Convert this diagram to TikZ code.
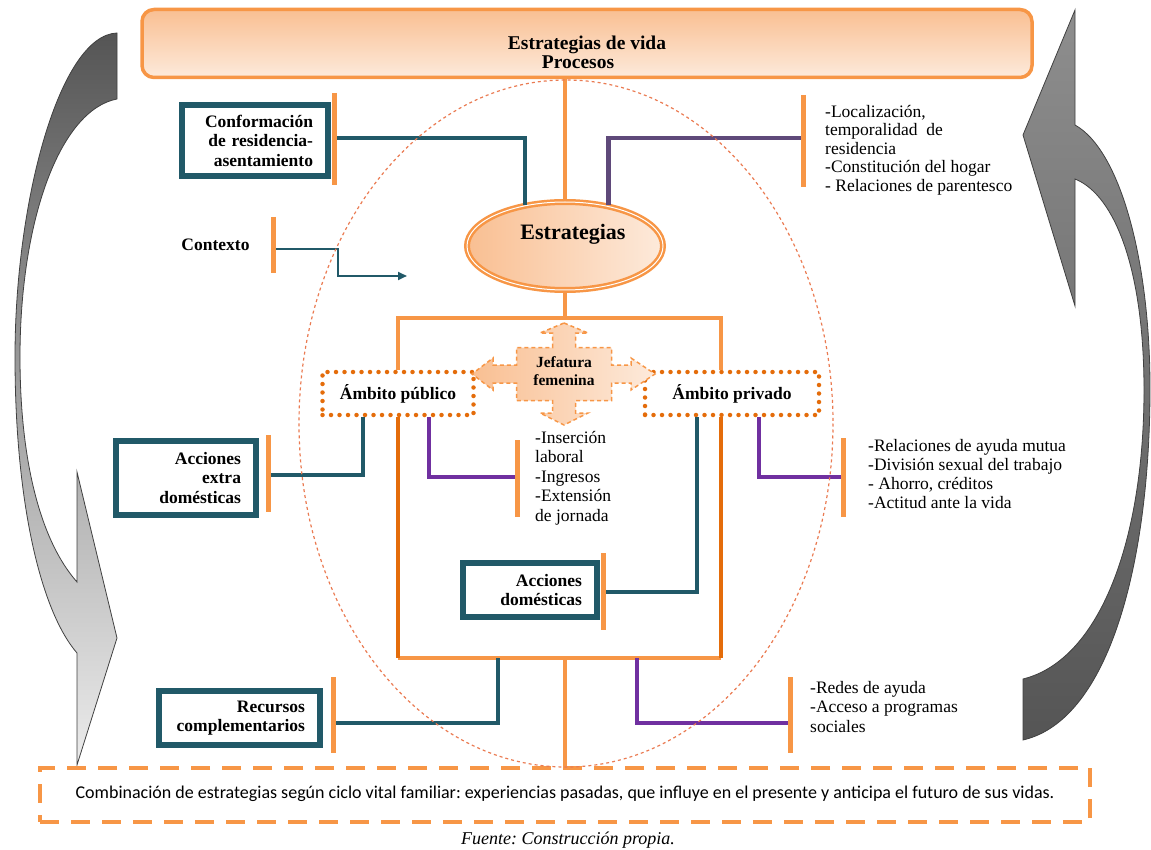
\documentclass[tikz,border=0pt]{standalone}
\usepackage{fontspec}
\setmainfont{Liberation Serif}
\newfontfamily\sanscal{Carlito}
\usetikzlibrary{arrows.meta, shapes.geometric}
\frenchspacing

\definecolor{naranja}{HTML}{F79646}
\definecolor{naranjaosc}{HTML}{E46C0A}
\definecolor{naranjaclaro}{HTML}{F9BF92}
\definecolor{naranjapal}{HTML}{FDEADB}
\definecolor{salmon}{HTML}{EA7B52}
\definecolor{verdeazul}{HTML}{215968}
\definecolor{morado}{HTML}{7030A0}
\definecolor{moradogr}{HTML}{5F497A}
\definecolor{grisosc}{HTML}{555555}
\definecolor{grismed}{HTML}{8E8E8E}
\definecolor{grisclaro}{HTML}{ECECEC}

\begin{document}
\begin{tikzpicture}[x=1pt, y=-1pt,
    caja/.style={draw=verdeazul, line width=6.5pt, fill=white, inner xsep=15pt, inner ysep=0pt,
                 align=right, font=\fontsize{17.5}{19.5}\selectfont\bfseries},
    marca/.style={draw=naranja, line width=5pt},
    lineaor/.style={draw=naranja, line width=4pt},
    lineaosc/.style={draw=naranjaosc, line width=4pt},
    lineave/.style={draw=verdeazul, line width=4.5pt},
    lineamo/.style={draw=morado, line width=4.5pt},
    lista/.style={anchor=north west, inner sep=0pt, align=left, font=\fontsize{17.5}{19}\selectfont},
    ambito/.style={draw=naranjaosc, line width=4.5pt, dash pattern=on 0pt off 8.5pt, line cap=round,
                   fill=white, minimum height=43pt, inner sep=0pt, font=\fontsize{17.5}{20}\selectfont\bfseries},
    flecha/.style={draw=black!75, line width=0.8pt}]

\useasboundingbox (0,0) rectangle (1151,850);

% flechas del ciclo
\draw[flecha, top color=grisosc, middle color=grismed, bottom color=grisclaro]
    (117,33) .. controls (60,35) and (15,200) .. (15,357)
    .. controls (15,500) and (40,610) .. (77,653)
    -- (77,765) -- (117,638) -- (77,472) -- (77,582)
    .. controls (40,540) and (20,460) .. (20,357)
    .. controls (20,220) and (60,110) .. (117,99) -- cycle;
\draw[flecha, top color=grismed, middle color=grisclaro!85!black, bottom color=grisosc]
    (1075,10) -- (1075,125)
    .. controls (1120,150) and (1150,260) .. (1150,388)
    .. controls (1150,560) and (1110,720) .. (1023,740)
    -- (1023,679)
    .. controls (1100,660) and (1144,540) .. (1144,390)
    .. controls (1144,270) and (1115,195) .. (1075,179)
    -- (1075,306) -- (1023,135) -- cycle;

% procesos
\node[draw=naranja, line width=3.5pt, rounded corners=12pt, top color=naranjaclaro, bottom color=naranjapal,
      minimum width=890pt, minimum height=68pt] (vida) at (587,43.5) {};
\node[font=\fontsize{19.5}{19}\selectfont\bfseries, align=center] (vidatxt) at (587,52.5)
    {Estrategias de vida\\Procesos\hspace*{18pt}};

\node[ellipse, draw=naranja, double=white, double distance=1pt, line width=2.5pt,
      left color=naranjaclaro, right color=naranjapal, minimum width=196pt, minimum height=88pt,
      inner sep=0pt] (estr) at (565,246) {};
\node[font=\fontsize{22}{24}\selectfont\bfseries] (estrtxt) at (573,234) {Estrategias};

% cajas
\node[caja, text width=116pt, minimum height=71pt] (conf) at (255,140.5) {Conformación\\de residencia-\\asentamiento};
\node[caja, text width=110pt, minimum height=74pt] (aed) at (186,478) {Acciones\\extra\\domésticas};
\node[caja, text width=104pt, minimum height=54pt] (dom) at (530,590) {Acciones\\domésticas};
\node[caja, text width=131pt, minimum height=54pt] (rec) at (239.5,718) {Recursos\\complementarios};
\node[font=\fontsize{17.5}{20}\selectfont\bfseries] (ctx) at (215.5,245) {Contexto};

\node[ambito, minimum width=151pt] (pub) at (398,393.5) {Ámbito público};
\node[ambito, minimum width=174pt] (priv) at (732,393.5) {Ámbito privado};

% jefatura
\coordinate (jefc) at (564,374);
\begin{scope}[shift={(jefc)}]
\draw[draw=naranja, line width=1.5pt, dash pattern=on 4pt off 3pt, left color=naranjaclaro, right color=naranjapal]
    (0,-51) -- (24,-41) -- (11.5,-41) -- (11.5,-26.5) -- (47.5,-26.5) -- (47.5,-9) -- (67,-9) -- (67,-16)
    -- (91,0) -- (67,16) -- (67,9) -- (47.5,9) -- (47.5,26.5) -- (11.5,26.5) -- (11.5,39) -- (24,39)
    -- (0,51) -- (-24,39) -- (-11.5,39) -- (-11.5,26.5) -- (-47.5,26.5) -- (-47.5,9) -- (-71,9) -- (-71,16)
    -- (-92,0) -- (-71,-16) -- (-71,-9) -- (-47.5,-9) -- (-47.5,-26.5) -- (-11.5,-26.5) -- (-11.5,-41)
    -- (-24,-41) -- cycle;
\end{scope}
\node[font=\fontsize{15.5}{18}\selectfont\bfseries, align=center] (jef) at (564,371) {Jefatura\\femenina};

% listas
\node[lista, font=\fontsize{17.5}{18.5}\selectfont] (loc) at (825,105)
    {-Localización,\\temporalidad\ \ de\\residencia\\-Constitución del hogar\\- Relaciones de parentesco};
\node[lista, font=\fontsize{17.5}{19.5}\selectfont] (ins) at (535,431)
    {-Inserción\\laboral\\-Ingresos\\-Extensión\\de jornada};
\node[lista] (rel) at (868,439)
    {-Relaciones de ayuda mutua\\-División sexual del trabajo\\- Ahorro, créditos\\-Actitud ante la vida};
\node[lista, font=\fontsize{17.5}{19.5}\selectfont] (red) at (810,681)
    {-Redes de ayuda\\-Acceso a programas\\sociales};

% ciclo vital
\node[draw=naranja, line width=4.5pt, dash pattern=on 19pt off 12pt, minimum width=1050pt, minimum height=54pt,
      font=\sanscal\fontsize{18}{20}\selectfont] (cyc) at (565,795)
    {\raisebox{6pt}{Combinación de estrategias según ciclo vital familiar: experiencias pasadas, que influye en el presente y anticipa el futuro de sus vidas.}};
\node[font=\fontsize{18}{20}\selectfont\itshape] (fuente) at (568,840) {Fuente: Construcción propia.};

% marcas
\coordinate (tkconf) at (334,138);
\coordinate (tkloc) at (803,138);
\coordinate (tkctx) at (273,249);
\coordinate (tkaed) at (268,475);
\coordinate (tkins) at (517,477);
\coordinate (tkrel) at (843,477);
\coordinate (tkdom) at (603,592);
\coordinate (tkrec) at (333,723);
\coordinate (tkred) at (790,723);
\coordinate (ctxfin) at (407,276);
\coordinate (brkR) at (721,318);
\coordinate (botR) at (721,658);
\coordinate (bT) at (498,658);
\coordinate (bM) at (565,658);
\coordinate (bP) at (637,658);

\draw[lineave] (tkconf) -| (estr.134);
\draw[lineamo, draw=moradogr] (tkloc) -| (estr.43);
\draw[lineaor] (vida.south -| estr.north) -- (estr.north);
\draw[verdeazul, line width=2.5pt, -{Triangle[length=9pt,width=8pt]}] (tkctx) -- (338,249) |- (ctxfin);

\draw[lineaor] (estr.south) -- (estr.south |- brkR);
\draw[lineaor] (pub.north) |- (brkR) -- (priv.north -| brkR);

\draw[lineave] ([xshift=-35pt]pub.south) |- (tkaed);
\draw[lineamo] ([xshift=31pt]pub.south) |- (tkins);
\draw[lineave] ([xshift=-35pt]priv.south) |- (tkdom);
\draw[lineamo] ([xshift=27pt]priv.south) |- (tkrel);

\draw[lineaor] (pub.south |- botR) -- (botR);
\draw[lineaosc] (pub.south) -- (pub.south |- botR);
\draw[lineaosc] (priv.south -| botR) -- (botR);

\draw[lineave] (bT) |- (tkrec);
\draw[lineamo] (bP) |- (tkred);
\draw[lineaor] (bM) -- (bM |- cyc.north);

\draw[marca] (334,93) -- (334,185);
\draw[marca] (803,95) -- (803,187);
\draw[marca] (273,217) -- (273,273);
\draw[marca] (268,435) -- (268,512);
\draw[marca] (517,440) -- (517,517);
\draw[marca] (843,438) -- (843,517);
\draw[marca] (603,553) -- (603,630);
\draw[marca] (333,677) -- (333,753);
\draw[marca] (790,677) -- (790,753);

% contorno punteado
\draw[salmon, line width=1.2pt, dash pattern=on 3pt off 3pt] (566,423.5) ellipse [x radius=267, y radius=343.5];

\end{tikzpicture}
\end{document}
